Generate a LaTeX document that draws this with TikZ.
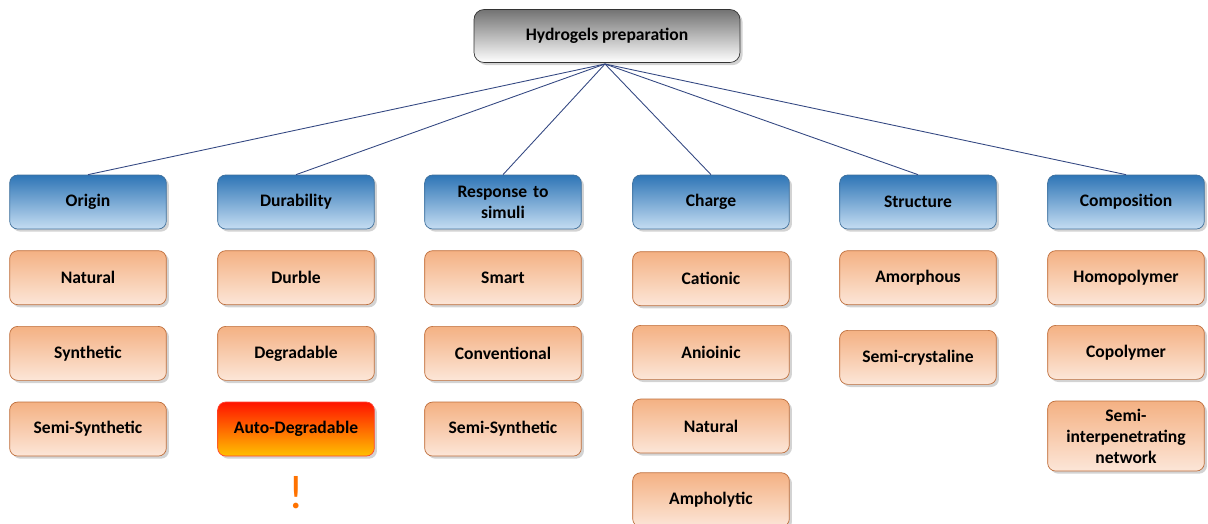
\documentclass[tikz,border=0pt]{standalone}
\usepackage{fontspec}
\setmainfont{Carlito}
\usepackage{xcolor}
\usetikzlibrary{positioning,shadows}

\definecolor{catblue}{RGB}{46,117,182}
\definecolor{catlight}{RGB}{197,221,242}
\definecolor{catline}{RGB}{65,113,156}
\definecolor{itemtop}{RGB}{244,177,131}
\definecolor{itembot}{RGB}{252,230,216}
\definecolor{itemline}{RGB}{190,110,60}
\definecolor{linkblue}{RGB}{52,72,130}
\definecolor{warnred}{RGB}{255,20,0}
\definecolor{warnyellow}{RGB}{255,192,0}

\begin{document}
\begin{tikzpicture}[
  x=0.02cm, y=-0.02cm,
  node distance=0.42cm and 1cm,
  every node/.style={font=\fontsize{10}{12}\selectfont\bfseries},
  root/.style={draw=black!80, rectangle, rounded corners=0.2cm, minimum width=5.32cm, minimum height=1.06cm, align=center, top color=black!55, bottom color=white, drop shadow={opacity=0.35, shadow xshift=1.5pt, shadow yshift=-1.5pt}},
  cat/.style={draw=catline, rectangle, rounded corners=0.16cm, minimum width=3.12cm, minimum height=1.08cm, text width=2.9cm, align=center, top color=catblue, bottom color=catlight, drop shadow={opacity=0.35, shadow xshift=1.5pt, shadow yshift=-1.5pt}},
  item/.style={draw=itemline, rectangle, rounded corners=0.16cm, minimum width=3.12cm, minimum height=1.08cm, text width=2.9cm, align=center, top color=itemtop, bottom color=itembot, drop shadow={opacity=0.35, shadow xshift=1.5pt, shadow yshift=-1.5pt}},
  hot/.style={item, draw=warnred!80, top color=warnred, bottom color=warnyellow},
  link/.style={draw=linkblue, line width=0.5pt}
]
\useasboundingbox (0,0) rectangle (1208,524);

% root
\node[root] (prep) at (607,36) {Hydrogels preparation};
\coordinate (hub) at (605,64);

% categories
\node[cat] (origin) at (88,202) {Origin};
\node[cat] (durab) at (296,202) {Durability};
\node[cat] (resp) at (503,202) {Response to\\simuli};
\node[cat] (charge) at (711,202) {Charge};
\node[cat] (struct) at (918,202) {Structure};
\node[cat] (compos) at (1126,202) {Composition};

% origin
\node[item, below=of origin] (natural) {Natural};
\node[item, below=of natural] (synth) {Synthetic};
\node[item, below=of synth] (semisynth) {Semi-Synthetic};

% durability
\node[item, below=of durab] (durble) {Durble};
\node[item, below=of durble] (degrad) {Degradable};
\node[hot, below=of degrad] (autodeg) {Auto-Degradable};
\node[text=warnyellow!55!warnred, font=\fontsize{27}{29}\selectfont, inner sep=0pt, anchor=base] (warn) at (296,508) {!};

% response
\node[item, below=of resp] (smart) {Smart};
\node[item, below=of smart] (conv) {Conventional};
\node[item, below=of conv] (semisynth2) {Semi-Synthetic};

% charge
\node[item, below=0.44cm of charge] (cation) {Cationic};
\node[item, below=0.38cm of cation] (anion) {Anioinic};
\node[item, below=0.38cm of anion] (neutral) {Natural};
\node[item, below=0.38cm of neutral] (ampho) {Ampholytic};

% structure
\node[item, below=0.42cm of struct] (amorph) {Amorphous};
\node[item, below=0.5cm of amorph] (semicryst) {Semi-crystaline};

% composition
\node[item, below=of compos] (homo) {Homopolymer};
\node[item, below=0.4cm of homo] (copoly) {Copolymer};
\node[item, below=0.42cm of copoly, minimum height=1.4cm] (semiipn) {Semi-\\interpenetrating\\network};

% links
\foreach \c in {origin,durab,resp,charge,struct,compos}
  \draw[link] (hub) -- (\c.north);
\end{tikzpicture}
\end{document}
